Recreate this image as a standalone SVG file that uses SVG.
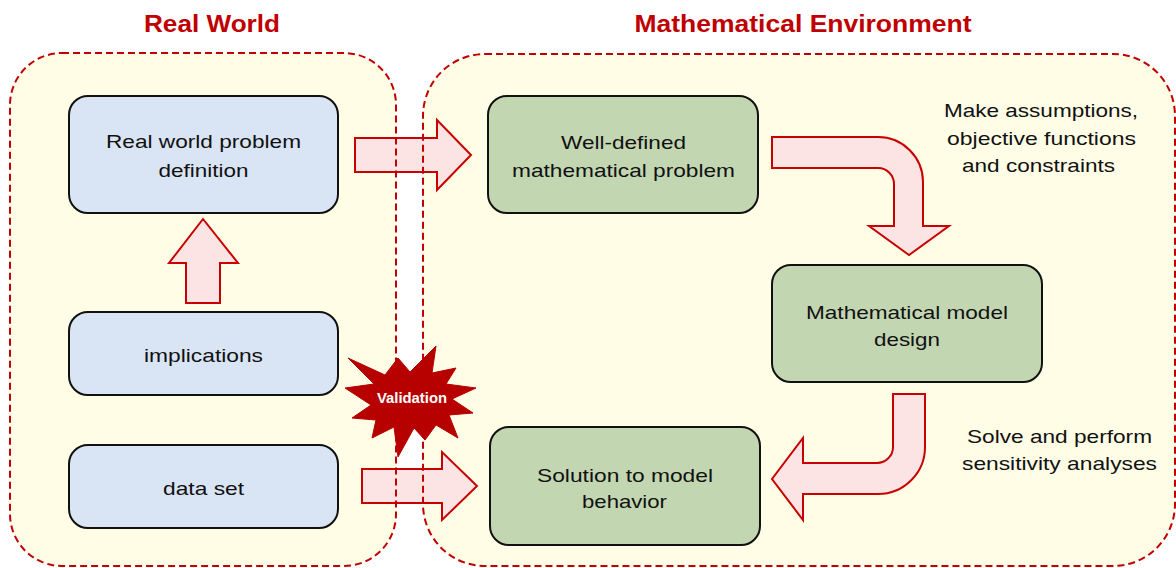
<svg xmlns="http://www.w3.org/2000/svg" width="1176" height="568" viewBox="0 0 1176 568">
<style>
.bgfill{fill:#fffde6;stroke:none}
.frame{fill:none;stroke:#c00000;stroke-width:2;stroke-dasharray:7 4}
.arrow{fill:#fde4e4;stroke:#c80000;stroke-width:2;stroke-linejoin:miter}
.blue{fill:#d9e5f4;stroke:#111;stroke-width:2}
.green{fill:#c3d6b2;stroke:#111;stroke-width:2}
.t{font-family:"Liberation Sans",Arial,sans-serif;font-size:19px;fill:#111;text-anchor:middle}
.title{font-family:"Liberation Sans",Arial,sans-serif;font-size:23px;font-weight:bold;fill:#c00000;text-anchor:middle}
.star{fill:#b70000;stroke:#b70000;stroke-width:1}
.st{font-family:"Liberation Sans",Arial,sans-serif;font-size:14px;font-weight:bold;fill:#fff;text-anchor:middle}
</style>
<rect width="1176" height="568" fill="#ffffff"/>
<g id="container-fills">
<rect class="bgfill" x="10" y="53" width="386" height="513" rx="52"/>
<rect class="bgfill" x="423" y="54" width="752" height="512" rx="62"/>
</g>
<g id="connectors">
<polygon class="arrow" points="186,303 220,303 220,263 238,263 203,219 169,263 186,263"/>
<polygon class="arrow" points="355,138 437,138 437,120 471,155 437,190 437,172 355,172"/>
<polygon class="arrow" points="362,469 442,469 442,452 477,486 442,520 442,503 362,503"/>
<path class="arrow" d="M772,137 H878 A45,45 0 0 1 923,182 V226 H949 L909,255 L869,226 H894 V184 A16,16 0 0 0 878,168 H772 Z"/>
<path class="arrow" d="M893,394 H925 V447 A47,47 0 0 1 878,494 H803 V520 L772,479 L803,438 V463 H877 A16,16 0 0 0 893,447 Z"/>
</g>
<g id="container-frames">
<rect class="frame" x="10" y="53" width="386" height="513" rx="52"/>
<rect class="frame" x="423" y="54" width="752" height="512" rx="62"/>
<text class="title" x="212" y="32" textLength="136" lengthAdjust="spacingAndGlyphs">Real World</text>
<text class="title" x="803" y="32" textLength="337" lengthAdjust="spacingAndGlyphs">Mathematical Environment</text>
</g>
<g id="node-real-problem">
<rect class="blue" x="69" y="96" width="269" height="117" rx="19"/>
<text class="t" x="203.5" y="148" textLength="195" lengthAdjust="spacingAndGlyphs">Real world problem</text>
<text class="t" x="203.5" y="177" textLength="90" lengthAdjust="spacingAndGlyphs">definition</text>
</g>
<g id="node-implications">
<rect class="blue" x="69" y="312" width="269" height="83" rx="19"/>
<text class="t" x="203.5" y="362" textLength="119" lengthAdjust="spacingAndGlyphs">implications</text>
</g>
<g id="node-data-set">
<rect class="blue" x="69" y="445" width="269" height="83" rx="19"/>
<text class="t" x="203.5" y="495" textLength="81" lengthAdjust="spacingAndGlyphs">data set</text>
</g>
<g id="node-well-defined">
<rect class="green" x="488" y="96" width="270" height="117" rx="19"/>
<text class="t" x="623.5" y="149" textLength="125" lengthAdjust="spacingAndGlyphs">Well-defined</text>
<text class="t" x="623.5" y="177" textLength="223" lengthAdjust="spacingAndGlyphs">mathematical problem</text>
</g>
<g id="node-model-design">
<rect class="green" x="772" y="265" width="270" height="117" rx="19"/>
<text class="t" x="907" y="319" textLength="202" lengthAdjust="spacingAndGlyphs">Mathematical model</text>
<text class="t" x="907" y="346" textLength="66" lengthAdjust="spacingAndGlyphs">design</text>
</g>
<g id="node-solution">
<rect class="green" x="490" y="427" width="270" height="118" rx="19"/>
<text class="t" x="625" y="482" textLength="176" lengthAdjust="spacingAndGlyphs">Solution to model</text>
<text class="t" x="624.5" y="508" textLength="85" lengthAdjust="spacingAndGlyphs">behavior</text>
</g>
<g id="label-assumptions">
<text class="t" x="1041" y="117" textLength="194" lengthAdjust="spacingAndGlyphs">Make assumptions,</text>
<text class="t" x="1041.5" y="145" textLength="189" lengthAdjust="spacingAndGlyphs">objective functions</text>
<text class="t" x="1038.5" y="172" textLength="153" lengthAdjust="spacingAndGlyphs">and constraints</text>
</g>
<g id="label-solve">
<text class="t" x="1059.5" y="443" textLength="185" lengthAdjust="spacingAndGlyphs">Solve and perform</text>
<text class="t" x="1059.5" y="470" textLength="195" lengthAdjust="spacingAndGlyphs">sensitivity analyses</text>
</g>
<g id="node-validation">
<polygon class="star" points="348,358 385,375 398,358 410,372 436,346 432,373 456,368 446,384 476,388 452,399 473,413 449,415 458,438 436,425 425,440 414,428 398,457 394,427 372,438 376,420 352,418 371,405 345,388 374,384"/>
<text class="st" x="412" y="403" textLength="70" lengthAdjust="spacingAndGlyphs">Validation</text>
</g>
</svg>
